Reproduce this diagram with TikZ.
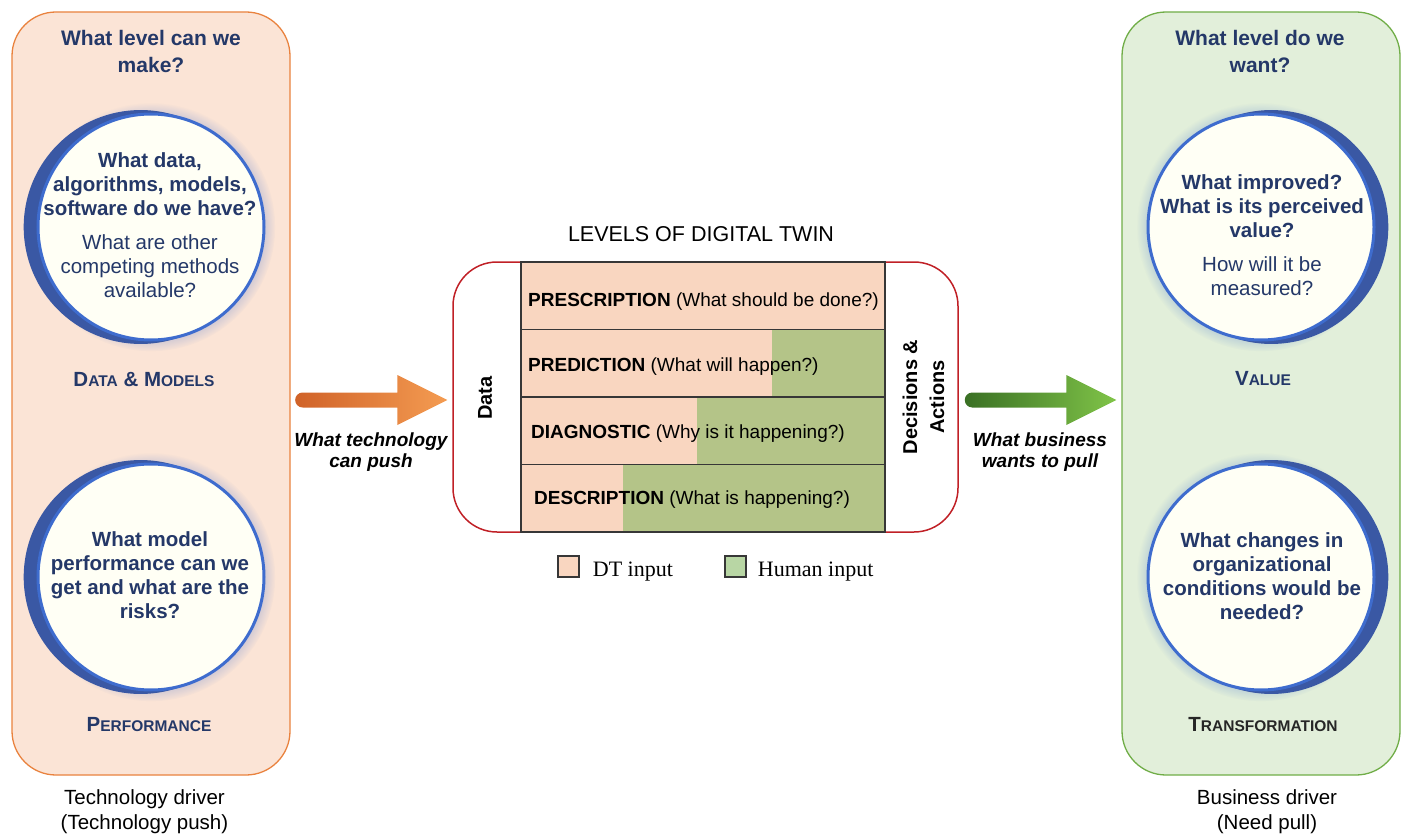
\documentclass[tikz,border=0pt]{standalone}
\usepackage{fontspec}
\setmainfont{Liberation Sans}
\newfontfamily\legendfont{Liberation Serif}
\usetikzlibrary{positioning,calc,shadows}

\definecolor{navy}{RGB}{36,56,104}
\definecolor{techfill}{RGB}{251,228,214}
\definecolor{techline}{RGB}{233,130,62}
\definecolor{bizfill}{RGB}{226,239,218}
\definecolor{bizline}{RGB}{112,173,71}
\definecolor{twinred}{RGB}{192,32,38}
\definecolor{dtin}{RGB}{249,214,192}
\definecolor{human}{RGB}{180,196,136}
\definecolor{humankey}{RGB}{184,214,164}
\definecolor{ringblue}{RGB}{62,108,206}
\definecolor{crescent}{RGB}{58,88,164}
\definecolor{bubblefill}{RGB}{255,255,245}
\definecolor{pushdark}{RGB}{208,98,40}
\definecolor{pushlight}{RGB}{244,156,82}
\definecolor{pulldark}{RGB}{58,112,36}
\definecolor{pulllight}{RGB}{128,196,72}
\definecolor{gridline}{RGB}{55,55,55}

% capital + smaller capitals
\newcommand\fakesc[2]{#1{\fontsize{15.5}{16}\selectfont #2}}

\begin{document}
\begin{tikzpicture}[
  x=1pt, y=-1pt,
  panel/.style={draw, line width=1.3pt, rounded corners=44pt, minimum width=278pt, minimum height=763pt},
  bubble/.style={circle, draw=ringblue, line width=3pt, fill=bubblefill, minimum size=226pt, inner sep=0pt},
  glowleft/.style={circular glow={fill=ringblue, shadow scale=1.1, opacity=.35},
                   general shadow={shadow scale=1.035, shadow xshift=-10pt, fill=crescent}},
  glowright/.style={circular glow={fill=ringblue, shadow scale=1.1, opacity=.35},
                    general shadow={shadow scale=1.035, shadow xshift=10pt, fill=crescent}},
  head/.style={text=navy, align=center, font=\bfseries\fontsize{21}{27}\selectfont},
  ask/.style={text=navy, align=center, font=\fontsize{20.5}{24}\selectfont},
  boldask/.style={ask, font=\bfseries\fontsize{20.5}{24}\selectfont},
  tag/.style={text=navy, font=\bfseries\fontsize{20.5}{24}\selectfont},
  driver/.style={align=center, inner sep=0pt, font=\fontsize{20.5}{25}\selectfont},
  rowtext/.style={anchor=west, inner sep=0pt, font=\fontsize{19}{22}\selectfont},
  side/.style={rotate=90, align=center, font=\bfseries\fontsize{20}{27}\selectfont},
  legbox/.style={draw=gridline, line width=1.4pt, minimum size=21pt, inner sep=0pt},
  legtext/.style={anchor=base west, inner sep=0pt, font=\legendfont\fontsize{22}{24}\selectfont},
  flowtext/.style={align=center, font=\bfseries\itshape\fontsize{19}{21}\selectfont}
]
\useasboundingbox (0,0) rectangle (1406,840);

% technology side
\node[panel, draw=techline, fill=techfill] (techpanel) at (151,393.5) {};
\node[head] (techhead) at (151,51) {What level can we\\make?};
\node[bubble, glowleft] (datacirc) at (151,227) {};
\node[ask] (dataask) at (150,225.5) {\textbf{What data,}\\\textbf{algorithms, models,}\\\textbf{software do we have?}\\[10pt]What are other\\competing methods\\available?};
\node[tag] (datatag) at (144,379.5) {\fakesc{D}{ATA} \& \fakesc{M}{ODELS}};
\node[bubble, glowleft] (perfcirc) at (151,577) {};
\node[boldask] (perfask) at (150,575) {What model\\performance can we\\get and what are the\\risks?};
\node[tag] (perftag) at (149,724.5) {\fakesc{P}{ERFORMANCE}};
\node[driver, below=14pt of techpanel, xshift=-6.5pt] (techdriver) {Technology driver\\(Technology push)};

% business side
\node[panel, draw=bizline, fill=bizfill] (bizpanel) at (1261,393.5) {};
\node[head] (bizhead) at (1260,51) {What level do we\\want?};
\node[bubble, glowright] (valuecirc) at (1261,227) {};
\node[ask] (valueask) at (1262,235) {\textbf{What improved?}\\\textbf{What is its perceived}\\\textbf{value?}\\[10pt]How will it be\\measured?};
\node[tag] (valuetag) at (1263,379) {\fakesc{V}{ALUE}};
\node[bubble, glowright] (transcirc) at (1261,577) {};
\node[boldask] (transask) at (1262,576) {What changes in\\organizational\\conditions would be\\needed?};
\node[tag, text=black!85] (transtag) at (1263,724.5) {\fakesc{T}{RANSFORMATION}};
\node[driver, below=14pt of bizpanel, xshift=6pt] (bizdriver) {Business driver\\(Need pull)};

% levels of the twin
\node[font=\fontsize{21.5}{24}\selectfont, anchor=base] (twintitle) at (701,241) {LEVELS OF DIGITAL TWIN};
\node[draw=twinred, line width=1.5pt, rounded corners=44pt, minimum width=505pt, minimum height=270pt] (twinbox) at (705.5,397) {};
\foreach \row/\split in {0/885,1/772,2/697,3/623}{
  \fill[dtin] (521,262+67.5*\row) rectangle (\split,329.5+67.5*\row);
  \fill[human] (\split,262+67.5*\row) rectangle (885,329.5+67.5*\row);
}
\foreach \row in {1,2,3}
  \draw[gridline, line width=1.2pt] (521,262+67.5*\row) -- (885,262+67.5*\row);
\draw[gridline, line width=1.4pt] (521,262) rectangle (885,532);
\node[rowtext] (presc) at (528,302) {\textbf{PRESCRIPTION} (What should be done?)};
\node[rowtext] (predic) at (528,366.5) {\textbf{PREDICTION} (What will happen?)};
\node[rowtext] (diagn) at (531,433.5) {\textbf{DIAGNOSTIC} (Why is it happening?)};
\node[rowtext] (descr) at (534,499.5) {\textbf{DESCRIPTION} (What is happening?)};
\node[side] (datalbl) at (485,398) {Data};
\node[side] (decilbl) at (923.5,397) {Decisions \&\\Actions};

% legend
\node[legbox, fill=dtin] (dtkey) at (568.5,566.5) {};
\node[legtext] (dtlbl) at ([xshift=13pt,yshift=1pt]dtkey.south east) {DT input};
\node[legbox, fill=humankey] (humkey) at (735.5,566.5) {};
\node[legtext] (humlbl) at ([xshift=11pt,yshift=1pt]humkey.south east) {Human input};

% push and pull arrows
\coordinate (pushtail) at ($(techpanel.east)+(4.5,6.5)$);
\coordinate (pushtip) at ($(twinbox.west)+(-5,3)$);
\coordinate (pulltail) at ($(twinbox.east)+(6,3)$);
\coordinate (pulltip) at ($(bizpanel.west)+(-5,6.5)$);
\shade[left color=pushdark, right color=pushlight]
  ($(pushtail)+(7.5,-7.5)$) -- ($(pushtip)+(-50,-7.5)$) -- ++(0,-17.5) -- (pushtip)
  -- ++(-50,25) -- ++(0,-17.5) -- ($(pushtail)+(7.5,7.5)$)
  arc[start angle=90, end angle=270, radius=7.5] -- cycle;
\shade[left color=pulldark, right color=pulllight]
  ($(pulltail)+(7.5,-7.5)$) -- ($(pulltip)+(-50,-7.5)$) -- ++(0,-17.5) -- (pulltip)
  -- ++(-50,25) -- ++(0,-17.5) -- ($(pulltail)+(7.5,7.5)$)
  arc[start angle=90, end angle=270, radius=7.5] -- cycle;
\node[flowtext] (pushlbl) at (371,452) {What technology\\can push};
\node[flowtext] (pulllbl) at (1040,452) {What business\\wants to pull};
\end{tikzpicture}
\end{document}
